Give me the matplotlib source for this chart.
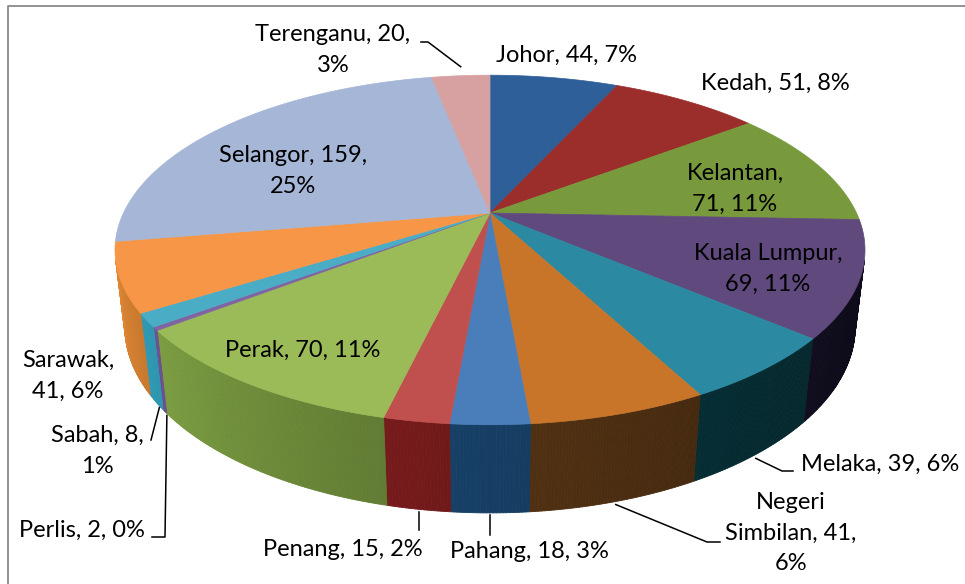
import numpy as np
import matplotlib
matplotlib.use('Agg')
import matplotlib.pyplot as plt
from matplotlib.patches import Polygon
from matplotlib.collections import PolyCollection
from matplotlib.lines import Line2D
from matplotlib.colors import to_rgb

# ---------------- data ----------------
states = ['Johor', 'Kedah', 'Kelantan', 'Kuala Lumpur', 'Melaka', 'Negeri Simbilan',
          'Pahang', 'Penang', 'Perak', 'Perlis', 'Sabah', 'Sarawak', 'Selangor', 'Terenganu']
counts = [44, 51, 71, 69, 39, 41, 18, 15, 70, 2, 8, 41, 159, 20]

top_colors = ['#2E5F98', '#9B2E2B', '#789A3D', '#604A7D', '#2B8AA1', '#C8752A', '#4A7EBB',
              '#C0504D', '#9BBB59', '#8064A2', '#4BACC6', '#F79646', '#A5B6D6', '#D6A1A0']
side_colors = ['#1A3A60', '#5A1A18', '#46602A', '#0E0B1A', '#052A30', '#4B2D11', '#163E64',
               '#731A1B', '#6E8C3A', '#6B5090', '#2F97B1', '#D78232', '#8A9AB8', '#B07F7E']

# label text layout: 'one' line, break after 'name', break after 'value'
label_names = ['Johor', 'Kedah', 'Kelantan', 'Kuala Lumpur', 'Melaka', 'Negeri\nSimbilan',
               'Pahang', 'Penang', 'Perak', 'Perlis', 'Sabah', 'Sarawak', 'Selangor', 'Terenganu']
label_wrap = ['one', 'one', 'name', 'name', 'one', 'value', 'one', 'one', 'one', 'one',
              'value', 'name', 'value', 'value']
label_pos = [(567, 55), (775, 83), (735, 189), (768, 269), (880, 464), (791, 533),
             (529, 552), (343, 549), (303, 350), (82, 530), (97, 451), (68, 376),
             (293, 171), (333, 50)]

# ---------------- geometry (perspective 3D pie) ----------------
W, H = 965, 584
CX, CY = 490.0, 213.0       # projected pie centre
FOC = 1543.0
LDIST = 4.21
PHI = np.radians(27.1)
DEPTH = 0.2366


def proj(theta, z):
    th = np.radians(theta)
    s, c = np.sin(th), np.cos(th)
    den = LDIST + c * np.cos(PHI) - z * np.sin(PHI)
    x = CX + FOC * s / den
    y = CY - FOC * (c * np.sin(PHI) + z * np.cos(PHI)) / den
    return x, y


total = float(sum(counts))
bounds = np.concatenate([[0], np.cumsum(counts)]) / total * 360.0
vis_lo = np.degrees(np.arccos(-1.0 / (LDIST * np.cos(PHI))))
vis_hi = 360.0 - vis_lo

fig = plt.figure(figsize=(W / 100, H / 100), dpi=100)
ax = fig.add_axes([0, 0, 1, 1])
ax.set_xlim(0, W)
ax.set_ylim(H, 0)
ax.axis('off')

# side faces
quads, qcols = [], []
for i in range(len(counts)):
    a, b = bounds[i], bounds[i + 1]
    lo, hi = max(a, vis_lo), min(b, vis_hi)
    if hi <= lo:
        continue
    mid = 0.5 * (a + b)
    base = np.array(to_rgb(side_colors[i]))
    n = max(2, int((hi - lo) / 0.4) + 1)
    ts = np.linspace(lo, hi, n)
    for t0, t1 in zip(ts[:-1], ts[1:]):
        x0, y0 = proj(t0, 0)
        x1, y1 = proj(t1, 0)
        x2, y2 = proj(t1, -DEPTH)
        x3, y3 = proj(t0, -DEPTH)
        quads.append([(x0, y0), (x1, y1), (x2, y2), (x3, y3)])
        m = np.clip(1 + 0.006 * (0.5 * (t0 + t1) - mid), 0.7, 1.3)
        qcols.append(tuple(np.clip(base * m, 0, 1)))
pc = PolyCollection(quads, facecolors=qcols, edgecolors=qcols, linewidths=0.6, zorder=1)
ax.add_collection(pc)

# top faces
for i in range(len(counts)):
    a, b = bounds[i], bounds[i + 1]
    ts = np.linspace(a, b, max(3, int((b - a) / 0.25) + 1))
    xs, ys = proj(ts, 0)
    pts = [(CX, CY)] + list(zip(xs, ys))
    ax.add_patch(Polygon(pts, closed=True, facecolor=top_colors[i],
                         edgecolor=top_colors[i], linewidth=0.5, zorder=2))

# labels
FONT = ['Lato', 'DejaVu Sans']
for i in range(len(counts)):
    pct = int(round(counts[i] / total * 100))
    name = label_names[i]
    if label_wrap[i] == 'one':
        txt = f'{name}, {counts[i]}, {pct}%'
    elif label_wrap[i] == 'name':
        txt = f'{name},\n{counts[i]}, {pct}%'
    else:
        txt = f'{name}, {counts[i]},\n{pct}%'
    ax.text(label_pos[i][0], label_pos[i][1], txt, ha='center', va='center',
            fontsize=17, family=FONT, color='black', linespacing=1.58,
            multialignment='center', zorder=5)

# leader lines: (slice index, on top or bottom rim, start offset, path after start)
leaders = [
    (13, 0.0, (0, -9), [(428, 42), (421, 42)]),
    (4, -DEPTH, (0, 4), [(782, 471), (793, 471)]),
    (5, -DEPTH, (0, 3), [(707, 542), (720, 542)]),
    (6, -DEPTH, (0, 2), [(None, 535)]),
    (7, -DEPTH, (0, 3), [(None, 530)]),
    (9, -DEPTH, (2, 4), [(165, 537), (152, 537)]),
    (10, -DEPTH, (3, 5), [(151, 440)]),
]
for idx, z, off, path in leaders:
    mid = 0.5 * (bounds[idx] + bounds[idx + 1])
    sx, sy = proj(mid, z)
    sx, sy = sx + off[0], sy + off[1]
    xs, ys = [sx], [sy]
    for px, py in path:
        xs.append(sx if px is None else px)
        ys.append(py)
    ax.add_line(Line2D(xs, ys, color='black', linewidth=1.1, zorder=4))

# chart border (top and left visible)
ax.add_line(Line2D([7.5, 7.5, W + 5], [H + 5, 5.5, 5.5], color='#8A8A8A',
                   linewidth=1.3, zorder=6, clip_on=False))

fig.savefig('out.png', dpi=100)
